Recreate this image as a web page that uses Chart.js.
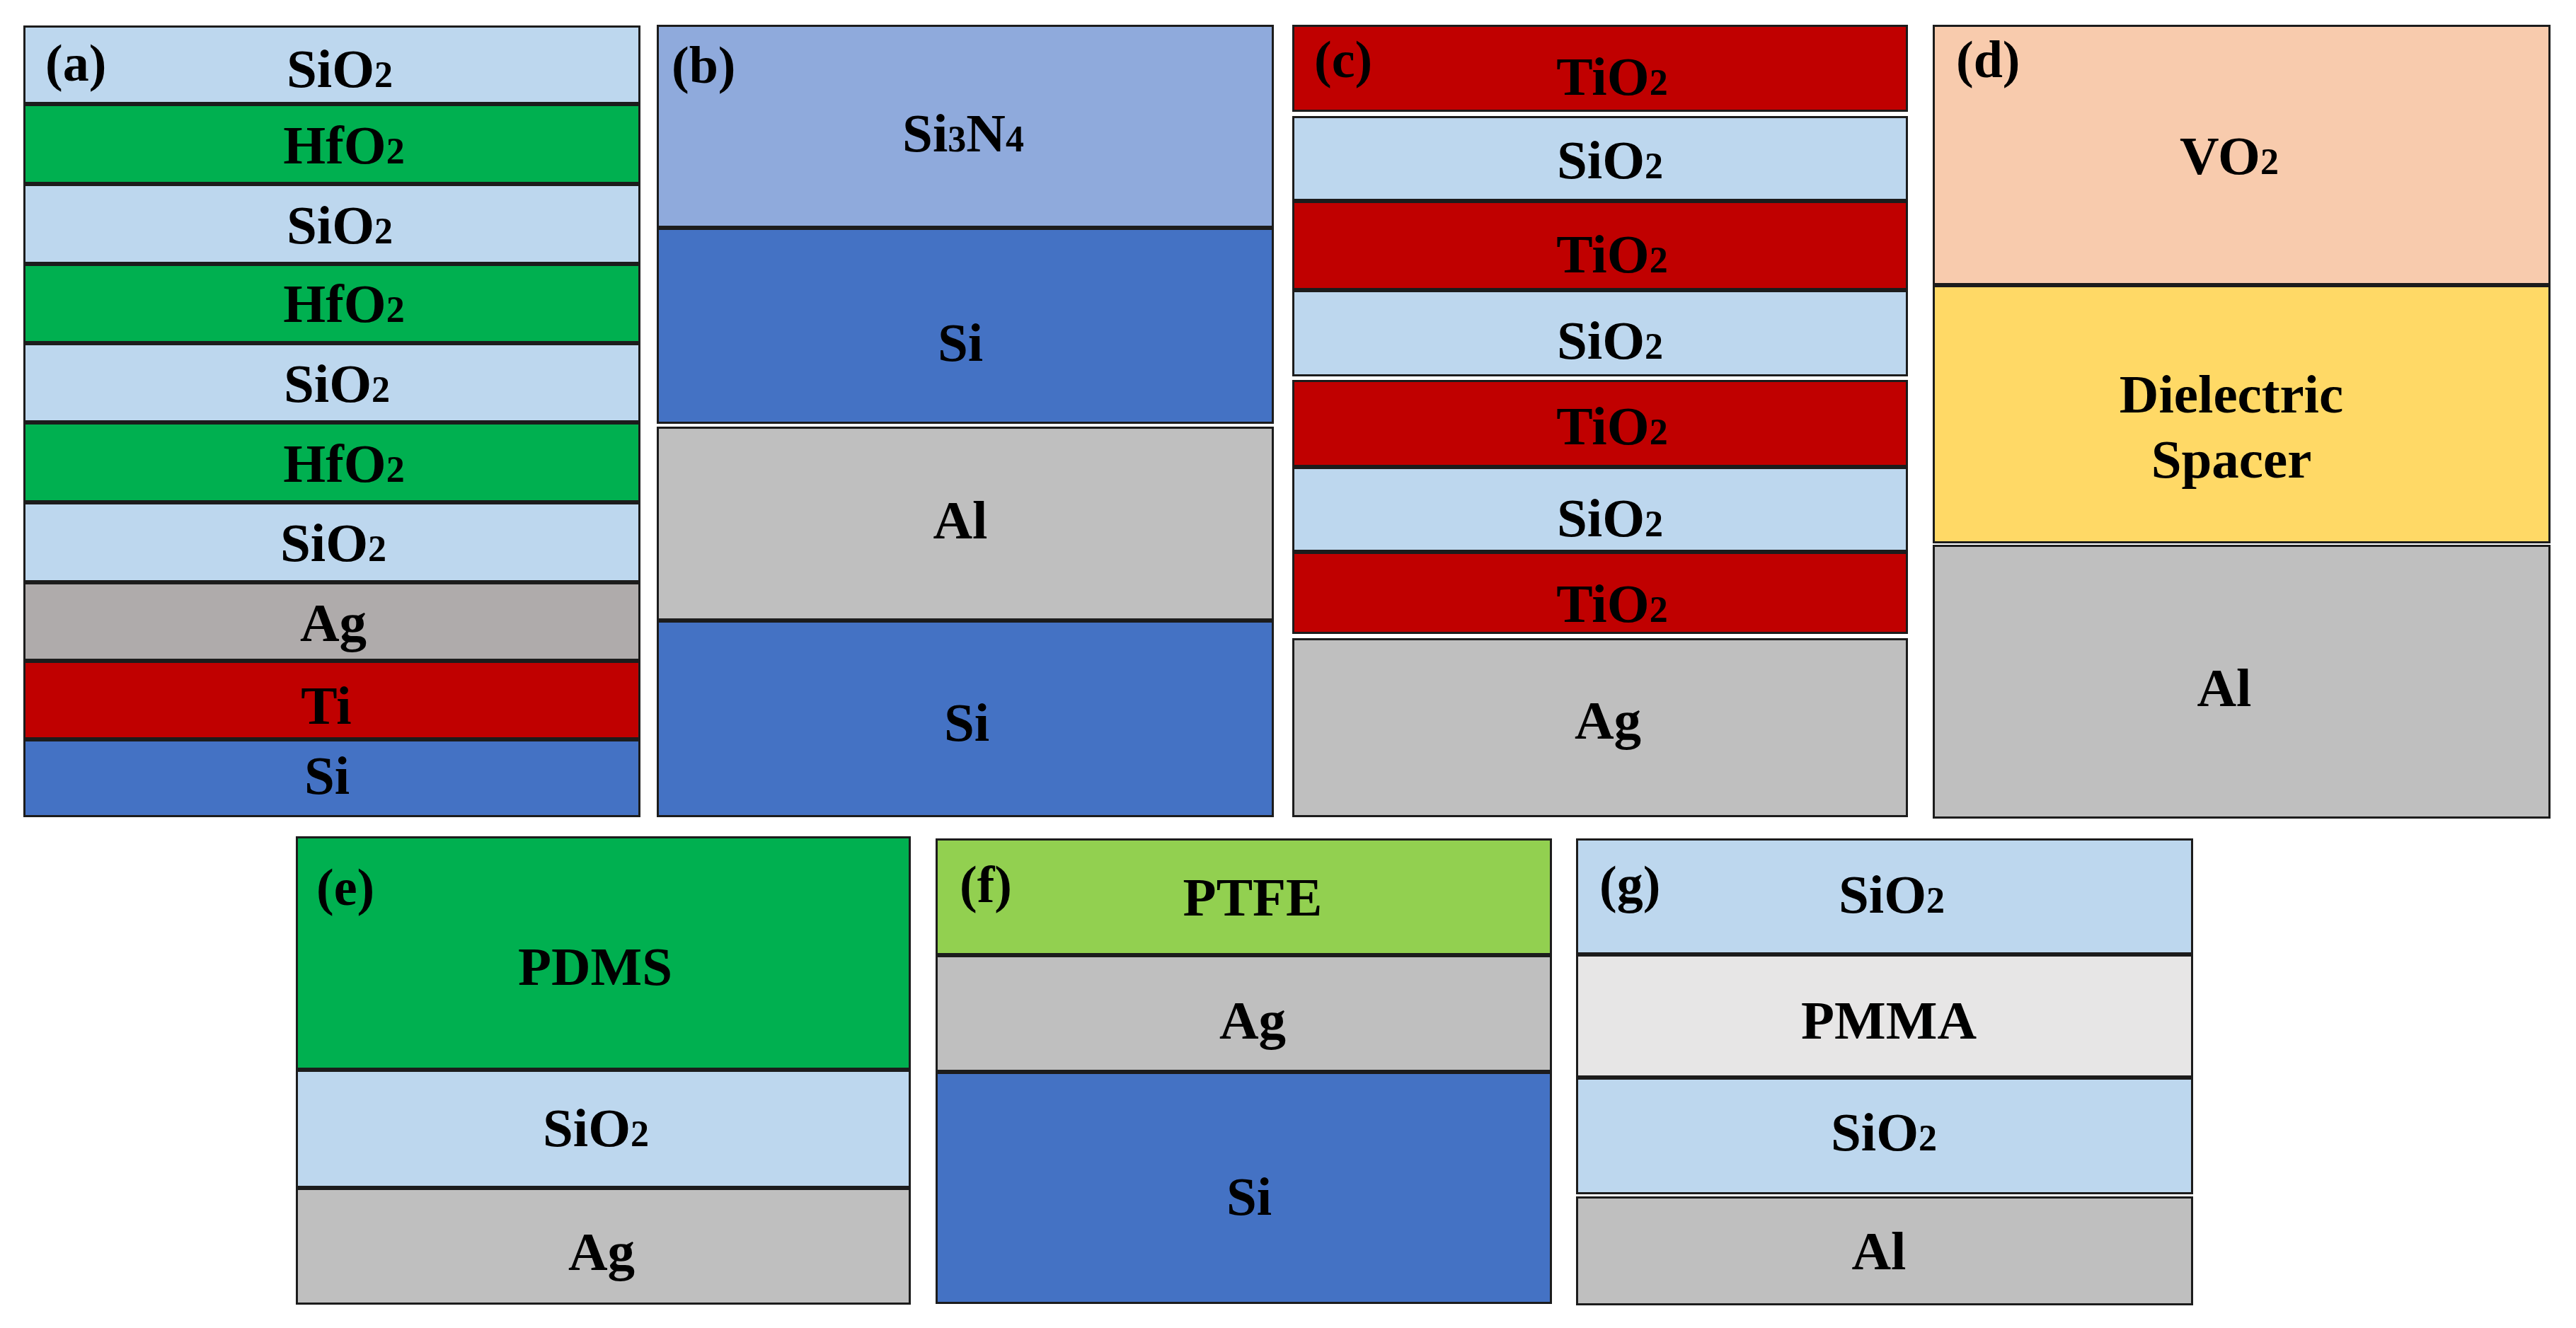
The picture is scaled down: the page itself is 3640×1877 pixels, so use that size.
<!DOCTYPE html>
<html>
<head>
<meta charset="utf-8">
<title>Layer stacks</title>
<script src="https://cdn.jsdelivr.net/npm/chart.js@4/dist/chart.umd.min.js"></script>
<style>
  html, body { margin: 0; padding: 0; background: #fff; overflow: hidden; }
  #page { position: relative; width: 3640px; height: 1877px; }
  canvas { position: absolute; display: block; }
</style>
</head>
<body>
<div id="page"></div>
<script>
// Layer names, top to bottom ('' = thin white gap between two layers)
const namesA = ['SiO2', 'HfO2', 'SiO2', 'HfO2', 'SiO2', 'HfO2', 'SiO2', 'Ag', 'Ti', 'Si'];
const namesB = ['Si3N4', 'Si', '', 'Al', 'Si'];
const namesC = ['TiO2', '', 'SiO2', 'TiO2', 'SiO2', '', 'TiO2', 'SiO2', 'TiO2', '', 'Ag'];
const namesD = ['VO2', 'Dielectric\nSpacer', '', 'Al'];
const namesE = ['PDMS', 'SiO2', 'Ag'];
const namesF = ['PTFE', 'Ag', 'Si'];
const namesG = ['SiO2', 'PMMA', 'SiO2', '', 'Al'];

// Layer thickness
const thickA = [111, 113, 113, 112, 112, 113, 113, 111, 111, 110];
const thickB = [287, 277, 4, 274, 278];
const thickC = [123, 6, 120, 126, 122, 5, 123, 120, 116, 6, 253];
const thickD = [368, 365, 2, 387];
const thickE = [330, 167, 165];
const thickF = [165, 165, 328];
const thickG = [164, 174, 165, 3, 154];

const palette = {
  SiO2: '#BDD7EE',
  HfO2: '#00B050',
  Ag: '#BFBFBF',
  Al: '#BFBFBF',
  Ti: '#C00000',
  TiO2: '#C00000',
  Si: '#4472C4',
  Si3N4: '#8FAADC',
  VO2: '#F8CBAD',
  'Dielectric\nSpacer': '#FFD966',
  PDMS: '#00B050',
  PTFE: '#92D050',
  PMMA: '#E7E6E6'
};

const lineColor = '#1c1c1c';
const textFont = '"Liberation Serif", "Times New Roman", serif';

// Page layout: box of each panel, tag spot and label spots [centre x, baseline, baseline...]
const panels = [
  {
    tag: '(a)', names: namesA, thick: thickA, box: [33, 36, 872, 1119], tagAt: [64, 114],
    fill: { Ag: '#AFABAB' },
    spots: [[480, 123], [486, 231], [480, 344], [486, 455], [476, 568], [486, 681], [471, 793], [471, 906], [461, 1023], [462, 1122]]
  },
  {
    tag: '(b)', names: namesB, thick: thickB, box: [928, 35, 872, 1120], tagAt: [949, 117],
    spots: [[1361, 214], [1357, 510], null, [1357, 761], [1366, 1047]]
  },
  {
    tag: '(c)', names: namesC, thick: thickC, box: [1826, 35, 870, 1120], tagAt: [1857, 109],
    spots: [[2278, 134], null, [2275, 252], [2278, 385], [2275, 507], null, [2278, 628], [2275, 758], [2278, 879], null, [2272, 1044]]
  },
  {
    tag: '(d)', names: namesD, thick: thickD, box: [2731, 35, 873, 1122], tagAt: [2764, 109],
    spots: [[3150, 246], [3153, 583, 675], null, [3143, 998]]
  },
  {
    tag: '(e)', names: namesE, thick: thickE, box: [418, 1182, 869, 662], tagAt: [447, 1279],
    spots: [[841, 1392], [842, 1620], [850, 1795]]
  },
  {
    tag: '(f)', names: namesF, thick: thickF, box: [1322, 1185, 871, 658], tagAt: [1356, 1275],
    spots: [[1770, 1294], [1770, 1468], [1765, 1717]]
  },
  {
    tag: '(g)', names: namesG, thick: thickG, box: [2227, 1185, 872, 660], tagAt: [2260, 1275],
    spots: [[2673, 1290], [2669, 1468], [2662, 1626], null, [2655, 1794]]
  }
];

// Writes one label, digits smaller on the same baseline (SiO2, Si3N4)
function drawFormula(ctx, text, cx, y, size) {
  const parts = text.match(/\d|\D+/g);
  const fontFor = p => `bold ${/\d/.test(p) ? Math.round(size * 0.68) : size}px ${textFont}`;
  let total = 0;
  parts.forEach(p => { ctx.font = fontFor(p); total += ctx.measureText(p).width; });
  let x = cx - total / 2;
  parts.forEach(p => {
    ctx.font = fontFor(p);
    ctx.fillText(p, x, y);
    x += ctx.measureText(p).width;
  });
}

// Layer labels and the panel tag, on top of the bars
const layerLabels = {
  id: 'layerLabels',
  afterDatasetsDraw(chart, args, opts) {
    const ctx = chart.ctx;
    const p = opts.panel;
    ctx.save();
    ctx.fillStyle = '#000';
    ctx.textAlign = 'left';
    ctx.textBaseline = 'alphabetic';
    p.names.forEach((name, i) => {
      const spot = p.spots[i];
      if (!spot) return;
      name.split('\n').forEach((line, k) => {
        drawFormula(ctx, line, spot[0] - p.box[0], spot[1 + k] - p.box[1], 77);
      });
    });
    ctx.font = `bold 74px ${textFont}`;
    ctx.fillText(p.tag, p.tagAt[0] - p.box[0], p.tagAt[1] - p.box[1]);
    ctx.restore();
  }
};

const page = document.getElementById('page');

panels.forEach(p => {
  const canvas = document.createElement('canvas');
  canvas.style.left = p.box[0] + 'px';
  canvas.style.top = p.box[1] + 'px';
  canvas.style.width = p.box[2] + 'px';
  canvas.style.height = p.box[3] + 'px';
  canvas.width = p.box[2];
  canvas.height = p.box[3];
  page.appendChild(canvas);

  new Chart(canvas, {
    type: 'bar',
    data: {
      labels: [p.tag],
      datasets: p.names.map((name, i) => ({
        label: name.replace('\n', ' '),
        data: [p.thick[i]],
        backgroundColor: name ? ((p.fill && p.fill[name]) || palette[name]) : 'rgba(255,255,255,0)',
        borderColor: name ? lineColor : 'rgba(255,255,255,0)',
        borderWidth: name ? 3 : 0,
        borderSkipped: false,
        inflateAmount: 0,
        barPercentage: 1,
        categoryPercentage: 1
      }))
    },
    options: {
      responsive: false,
      animation: false,
      layout: { padding: 0 },
      plugins: {
        legend: { display: false },
        tooltip: { enabled: false },
        layerLabels: { panel: p }
      },
      scales: {
        x: { stacked: true, display: false },
        y: {
          stacked: true,
          display: false,
          reverse: true,
          min: 0,
          max: p.thick.reduce((a, b) => a + b, 0)
        }
      }
    },
    plugins: [layerLabels]
  });
});
</script>
</body>
</html>
